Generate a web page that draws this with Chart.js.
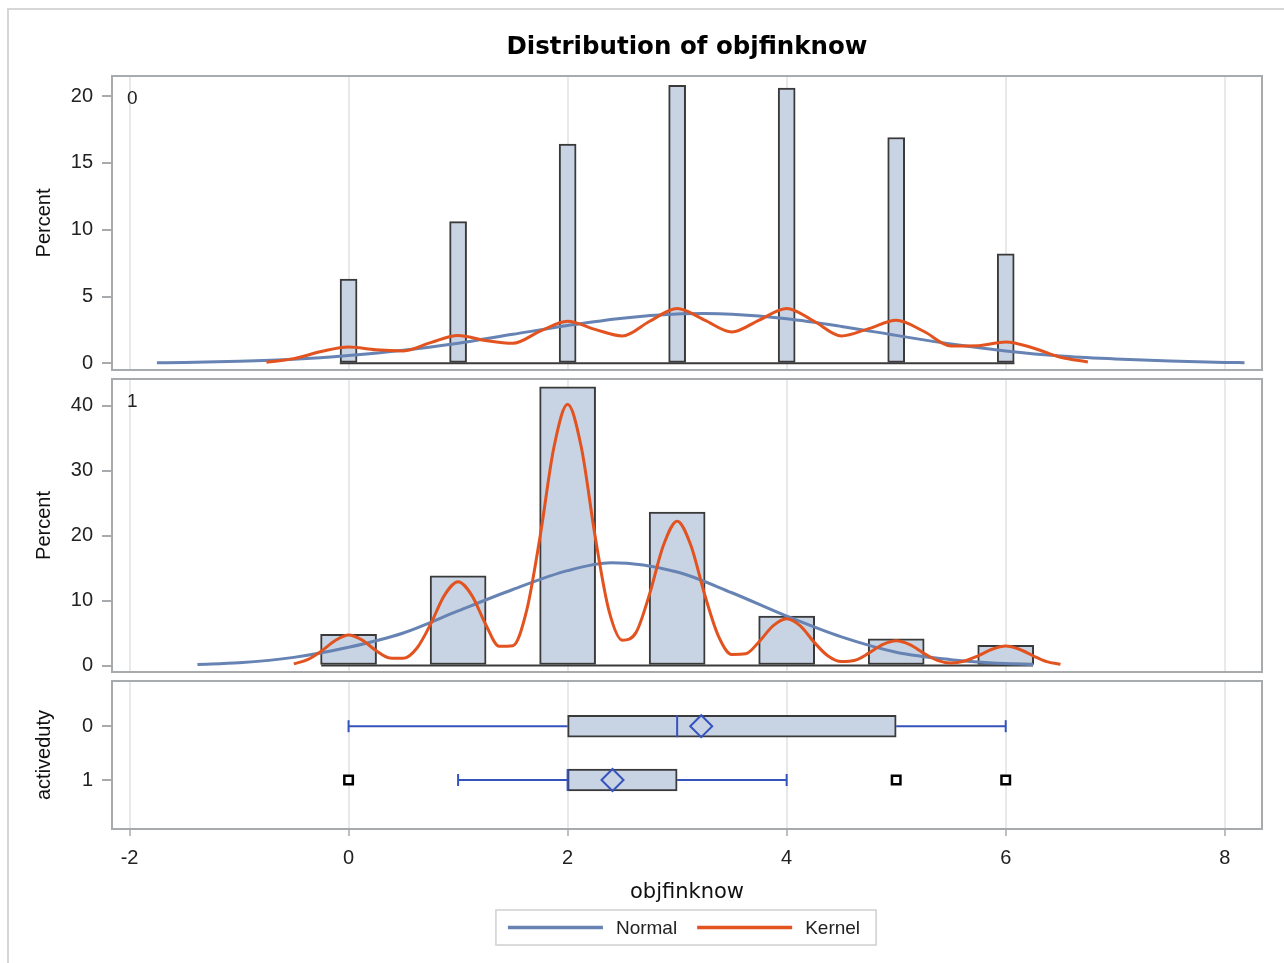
<!DOCTYPE html>
<html>
<head>
<meta charset="utf-8">
<title>Distribution of objfinknow</title>
<script src="https://cdn.jsdelivr.net/npm/chart.js@4.4.1/dist/chart.umd.min.js"></script>
<style>
  html, body { margin: 0; padding: 0; background: #fff; overflow: hidden; }
  body { width: 1284px; height: 963px; position: relative; }
  #frame { position: absolute; left: 7px; top: 8px; width: 1300px; height: 1000px;
           border-left: 2px solid #d6d6d6; border-top: 2px solid #d6d6d6; }
  canvas { position: absolute; left: 0; }
</style>
</head>
<body>
<div id="frame"></div>
<canvas id="top" width="1284" height="400" style="top:0px"></canvas>
<canvas id="mid" width="1284" height="360" style="top:340px"></canvas>
<canvas id="box" width="1284" height="323" style="top:640px"></canvas>
<script>
// values (percent of each activeduty group)
const xTicks = [-2, 0, 2, 4, 6, 8];
const xMin = -2.16, xMax = 8.34;

const scores = [0, 1, 2, 3, 4, 5, 6];
const pctDuty0 = [6.3, 10.6, 16.4, 20.8, 20.6, 16.9, 8.2];
const pctDuty1 = [4.8, 13.8, 42.9, 23.6, 7.6, 4.1, 3.1];

// outline of the empty bins along the bottom
const binEdges0 = [-0.08, 6.08];
const binEdges1 = [-0.25, 6.25];

const percentTicks0 = [0, 5, 10, 15, 20];
const percentTicks1 = [0, 10, 20, 30, 40];

// fitted curves, group 0
const normalX0 = [-1.75, -1.5, -1, -0.5, 0, 0.5, 1, 1.5, 2, 2.5, 3, 3.25, 3.5, 4, 4.5, 5, 5.5, 6, 6.5, 7, 7.5, 8, 8.18];
const normalY0 = [0.04, 0.07, 0.15, 0.3, 0.58, 0.97, 1.5, 2.17, 2.83, 3.38, 3.69, 3.72, 3.67, 3.33, 2.76, 2.09, 1.44, 0.93, 0.55, 0.33, 0.17, 0.07, 0.05];
const kernelX0 = [-0.75, -0.5, -0.25, 0, 0.25, 0.5, 0.75, 1, 1.25, 1.5, 1.75, 2, 2.25, 2.5, 2.75, 3, 3.25, 3.5, 3.75, 4, 4.25, 4.5, 4.75, 5, 5.25, 5.5, 5.75, 6, 6.25, 6.5, 6.75];
const kernelY0 = [0.08, 0.35, 0.88, 1.22, 1.01, 0.93, 1.55, 2.08, 1.71, 1.5, 2.41, 3.15, 2.54, 2.05, 3.15, 4.1, 3.24, 2.35, 3.24, 4.11, 3.15, 2.05, 2.6, 3.22, 2.4, 1.3, 1.32, 1.6, 1.15, 0.45, 0.1];

// fitted curves, group 1
const normalX1 = [-1.38, -1, -0.5, 0, 0.5, 1, 1.5, 2, 2.4, 3, 3.5, 4, 4.5, 5, 5.5, 6, 6.25];
const normalY1 = [0.17, 0.42, 1.25, 2.8, 5.0, 8.4, 11.7, 14.6, 15.8, 14.4, 11.2, 7.6, 4.4, 2.05, 0.9, 0.3, 0.15];
const kernelX1 = [-0.5, -0.375, -0.25, -0.125, 0, 0.125, 0.25, 0.375, 0.5, 0.625, 0.75, 0.875, 1, 1.125, 1.25, 1.375, 1.5, 1.625, 1.75, 1.875, 2, 2.125, 2.25, 2.375, 2.5, 2.625, 2.75, 2.875, 3, 3.125, 3.25, 3.375, 3.5, 3.625, 3.75, 3.875, 4, 4.125, 4.25, 4.375, 4.5, 4.625, 4.75, 4.875, 5, 5.125, 5.25, 5.375, 5.5, 5.625, 5.75, 5.875, 6, 6.125, 6.25, 6.375, 6.5];
const kernelY1 = [0.25, 0.9, 2.2, 3.8, 4.7, 3.9, 2.3, 1.15, 1.1, 2.7, 6.4, 10.8, 12.9, 10.8, 6.4, 2.95, 3.05, 8.4, 20.0, 33.6, 40.2, 33.6, 20.0, 8.6, 3.9, 5.1, 11.1, 18.5, 22.2, 18.5, 11.0, 4.6, 1.7, 1.8, 3.7, 6.1, 7.2, 6.1, 3.6, 1.5, 0.6, 0.8, 1.9, 3.2, 3.8, 3.2, 1.9, 0.8, 0.4, 0.7, 1.5, 2.5, 3.0, 2.5, 1.5, 0.6, 0.2];

// box plot per activeduty group
const groups = [0, 1];
const boxMin = [0, 1];
const boxQ1 = [2, 2];
const boxMedian = [3, 2];
const boxQ3 = [5, 3];
const boxMax = [6, 4];
const boxMean = [3.22, 2.41];
const outlierX = [0, 5, 6];
const outlierGroup = [1, 1, 1];

const legendLabels = ['Normal', 'Kernel'];

const NORMAL_COL = '#6683b3';
const KERNEL_COL = '#e2531f';
const BAR_FILL = '#c8d4e4';
const EDGE_COL = '#3a3a3a';
const WHISKER_COL = '#3553bd';
const FRAME_COL = '#a7abae';

Chart.defaults.font.family = '"Liberation Sans", Arial, sans-serif';
Chart.defaults.font.size = 20;
Chart.defaults.color = '#222';

function pts(xs, ys) {
    return xs.map((x, i) => ({x: x, y: ys[i]}));
}

function xScale(showAxis) {
    return {
        type: 'linear', min: xMin, max: xMax, offset: false,
        afterBuildTicks: s => { s.ticks = xTicks.map(v => ({value: v})); },
        afterFit: s => { s.height = showAxis ? 76 : 0; },
        grid: { offset: false, color: '#e9e9e9', lineWidth: 2, drawTicks: showAxis, tickLength: 7,
                tickColor: FRAME_COL, tickWidth: 1.5 },
        border: { display: false },
        ticks: { display: showAxis, padding: 10, color: '#222' },
        title: { display: showAxis, text: 'objfinknow', color: '#111',
                 font: { family: '"DejaVu Sans"', size: 21 }, padding: { top: 0, bottom: 0 } }
    };
}

function yScale(min, max, ticks, title, reverse) {
    return {
        type: 'linear', min: min, max: max, reverse: reverse, offset: false,
        afterBuildTicks: s => { s.ticks = ticks.map(v => ({value: v})); },
        afterFit: s => { s.width = 112; },
        grid: { offset: false, drawOnChartArea: false, drawTicks: true, tickLength: 10,
                color: FRAME_COL, tickColor: FRAME_COL, lineWidth: 2 },
        border: { display: false },
        ticks: { padding: 9, color: '#222' },
        title: { display: true, text: title, color: '#111', font: { size: 20 },
                 padding: { top: 32, bottom: 0 } }
    };
}

// grey frame round each panel, plus the group tag in the corner
function panelFrame(tag) {
    return {
        id: 'panelFrame',
        afterDraw(chart) {
            const {ctx, chartArea: a} = chart;
            ctx.save();
            ctx.strokeStyle = FRAME_COL;
            ctx.lineWidth = 2;
            ctx.strokeRect(a.left, a.top, a.right - a.left, a.bottom - a.top);
            if (tag !== null) {
                ctx.fillStyle = '#222';
                ctx.font = '19px "Liberation Sans"';
                ctx.textBaseline = 'middle';
                ctx.fillText(tag, a.left + 15, a.top + 23);
            }
            ctx.restore();
        }
    };
}

const mainTitle = {
    id: 'mainTitle',
    afterDraw(chart) {
        const {ctx, chartArea: a} = chart;
        ctx.save();
        ctx.font = 'bold 24.5px "DejaVu Sans"';
        ctx.fillStyle = '#000';
        ctx.textAlign = 'center';
        ctx.textBaseline = 'middle';
        ctx.fillText('Distribution of objfinknow', (a.left + a.right) / 2, 48);
        ctx.restore();
    }
};

const curveLegend = {
    id: 'curveLegend',
    afterDraw(chart) {
        const {ctx, chartArea: a} = chart;
        const cols = [NORMAL_COL, KERNEL_COL];
        ctx.save();
        ctx.font = '19px "Liberation Sans"';
        const widths = legendLabels.map(t => ctx.measureText(t).width);
        const lineLen = 95, gap = 13, itemGap = 20;
        let total = 12 + 16 + itemGap * (legendLabels.length - 1);
        widths.forEach(w => { total += lineLen + gap + w; });
        const left = (a.left + a.right) / 2 - total / 2 - 1;
        const top = 270, h = 35, mid = top + h / 2;
        ctx.strokeStyle = '#cfcfcf';
        ctx.lineWidth = 1.5;
        ctx.strokeRect(left, top, total, h);
        let x = left + 12;
        legendLabels.forEach((t, i) => {
            ctx.strokeStyle = cols[i];
            ctx.lineWidth = 3.5;
            ctx.beginPath();
            ctx.moveTo(x, mid);
            ctx.lineTo(x + lineLen, mid);
            ctx.stroke();
            x += lineLen + gap;
            ctx.fillStyle = '#222';
            ctx.textBaseline = 'middle';
            ctx.fillText(t, x, mid + 1);
            x += widths[i] + itemGap;
        });
        ctx.restore();
    }
};

function histConfig(p) {
    return {
        type: 'scatter',
        data: {
            datasets: [
                { type: 'line', label: 'Kernel', data: pts(p.kernX, p.kernY), borderColor: KERNEL_COL,
                  borderWidth: 3, pointRadius: 0, cubicInterpolationMode: 'monotone', fill: false, order: 0 },
                { type: 'line', label: 'Normal', data: pts(p.normX, p.normY), borderColor: NORMAL_COL,
                  borderWidth: 3, pointRadius: 0, cubicInterpolationMode: 'monotone', fill: false, order: 1 },
                { type: 'line', label: 'bins', data: p.edges.map(x => ({x: x, y: 0})), borderColor: EDGE_COL,
                  borderWidth: 2, pointRadius: 0, order: 2 },
                { type: 'bar', label: 'Percent', data: pts(scores, p.pct), backgroundColor: BAR_FILL,
                  borderColor: EDGE_COL, borderWidth: 2, borderSkipped: false, barThickness: p.barPx, order: 3 }
            ]
        },
        options: {
            responsive: false, animation: false, events: [],
            layout: { padding: { left: 0, right: 22, top: p.padTop, bottom: p.padBottom } },
            plugins: { legend: { display: false }, tooltip: { enabled: false } },
            scales: { x: xScale(false), y: yScale(p.yMin, p.yMax, p.yTicks, 'Percent', false) }
        },
        plugins: p.extra.concat([panelFrame(p.tag)])
    };
}

window.onload = function() {
    new Chart(document.getElementById('top'), histConfig({
        pct: pctDuty0, normX: normalX0, normY: normalY0, kernX: kernelX0, kernY: kernelY0,
        edges: binEdges0, yMin: -0.5, yMax: 21.5, yTicks: percentTicks0, barPx: 17,
        tag: '0', padTop: 76, padBottom: 30, extra: [mainTitle]
    }));

    new Chart(document.getElementById('mid'), histConfig({
        pct: pctDuty1, normX: normalX1, normY: normalY1, kernX: kernelX1, kernY: kernelY1,
        edges: binEdges1, yMin: -1.0, yMax: 44.1, yTicks: percentTicks1, barPx: 56,
        tag: '1', padTop: 39, padBottom: 28, extra: []
    }));

    const boxSets = [];
    groups.forEach((g, i) => {
        boxSets.push({ type: 'line', data: [{x: boxMin[i], y: g}, {x: boxQ1[i], y: g}],
                       borderColor: WHISKER_COL, borderWidth: 2, pointRadius: 0, order: 6 });
        boxSets.push({ type: 'line', data: [{x: boxQ3[i], y: g}, {x: boxMax[i], y: g}],
                       borderColor: WHISKER_COL, borderWidth: 2, pointRadius: 0, order: 6 });
    });
    boxSets.push({ type: 'bar', indexAxis: 'y',
                   data: groups.map((g, i) => ({y: g, x: [boxQ1[i], boxQ3[i]]})),
                   backgroundColor: BAR_FILL, borderColor: EDGE_COL, borderWidth: 2,
                   borderSkipped: false, barThickness: 22, order: 5 });
    boxSets.push({ type: 'scatter',
                   data: groups.flatMap((g, i) => [{x: boxMin[i], y: g}, {x: boxMax[i], y: g}]),
                   pointStyle: 'line', pointRotation: 90, pointRadius: 6,
                   pointBorderColor: WHISKER_COL, pointBorderWidth: 2, order: 4 });
    boxSets.push({ type: 'scatter', data: pts(boxMedian, groups),
                   pointStyle: 'line', pointRotation: 90, pointRadius: 11,
                   pointBorderColor: WHISKER_COL, pointBorderWidth: 2, order: 3 });
    boxSets.push({ type: 'scatter', data: pts(boxMean, groups),
                   pointStyle: 'rectRot', pointRadius: 11, pointBackgroundColor: 'rgba(0,0,0,0)',
                   pointBorderColor: WHISKER_COL, pointBorderWidth: 2, order: 2 });
    boxSets.push({ type: 'scatter', data: pts(outlierX, outlierGroup),
                   pointStyle: 'rect', pointRadius: 6, pointBackgroundColor: '#fff',
                   pointBorderColor: '#000', pointBorderWidth: 2.5, order: 1 });

    new Chart(document.getElementById('box'), {
        type: 'scatter',
        data: { datasets: boxSets },
        options: {
            responsive: false, animation: false, events: [],
            layout: { padding: { left: 0, right: 22, top: 41, bottom: 58 } },
            plugins: { legend: { display: false }, tooltip: { enabled: false } },
            scales: { x: xScale(true), y: yScale(-0.84, 1.91, groups, 'activeduty', true) }
        },
        plugins: [panelFrame(null), curveLegend]
    });
};
</script>
</body>
</html>
